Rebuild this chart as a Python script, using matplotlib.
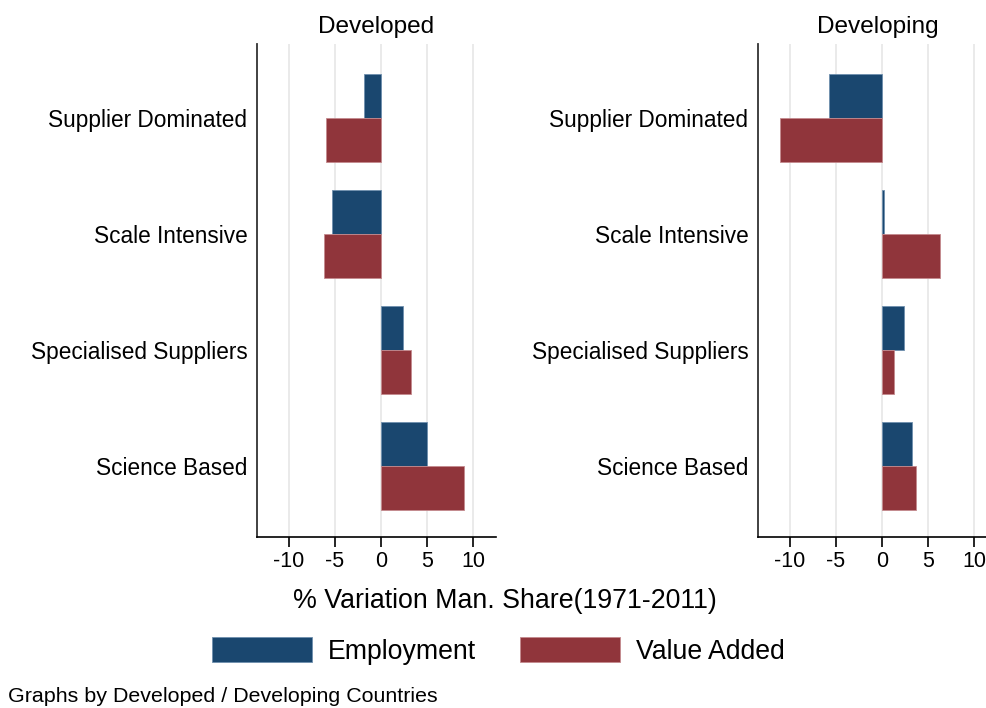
import matplotlib
matplotlib.use("Agg")
import matplotlib.pyplot as plt
from matplotlib.patches import Patch
import numpy as np

plt.rcParams['font.family'] = ['Liberation Sans', 'DejaVu Sans']

categories = ["Supplier Dominated", "Scale Intensive", "Specialised Suppliers", "Science Based"]
groups = ["Developed", "Developing"]

# % variation in manufacturing share, 1971-2011
developed_emp = [-1.85, -5.3, 2.4, 5.0]
developed_va = [-5.95, -6.2, 3.3, 9.05]
developing_emp = [-5.75, 0.2, 2.45, 3.25]
developing_va = [-11.0, 6.35, 1.3, 3.7]

xticks = [-10, -5, 0, 5, 10]

navy = '#1a476f'
maroon = '#90353b'

fig = plt.figure(figsize=(9.87, 7.08), dpi=100)

ax_w = 238.7 / 987
ax_h = 493 / 708
ax_b = 1 - 537 / 708
lefts = [257 / 987, 758 / 987]

data = [(developed_emp, developed_va), (developing_emp, developing_va)]
y = np.arange(len(categories))
h = 0.38

for k in range(2):
    ax = fig.add_axes([lefts[k], ax_b, ax_w, ax_h])
    emp, va = data[k]
    ax.barh(y - h / 2, emp, height=h, color=navy, edgecolor='#6f8fae', linewidth=0.6, zorder=3)
    ax.barh(y + h / 2, va, height=h, color=maroon, edgecolor='#c48a8e', linewidth=0.6, zorder=3)
    ax.set_xlim(-13.43, 12.45)
    ax.set_ylim(3.612, -0.638)
    ax.set_xticks(xticks)
    ax.set_xticklabels([str(t) for t in xticks], fontsize=15.5)
    ax.set_yticks(y)
    ax.set_yticklabels(categories, fontsize=16.25)
    ax.tick_params(axis='y', length=0, pad=7)
    ax.tick_params(axis='x', length=7, width=1.2, pad=3, direction='out')
    ax.grid(axis='x', color='#e6e6e6', linewidth=1.2, zorder=0)
    ax.set_axisbelow(True)
    for s in ['top', 'right']:
        ax.spines[s].set_visible(False)
    ax.spines['left'].set_color('#333333')
    ax.spines['left'].set_linewidth(1.3)
    ax.spines['bottom'].set_color('black')
    ax.spines['bottom'].set_linewidth(1.2)
    ax.set_title(groups[k], fontsize=17.6, pad=8)

fig.text(0.512, 1 - 601 / 708, "% Variation Man. Share(1971-2011)", fontsize=19.3,
         ha='center', va='center')

handles = [Patch(facecolor=navy, edgecolor='#6f8fae', linewidth=0.6, label='Employment'),
           Patch(facecolor=maroon, edgecolor='#c48a8e', linewidth=0.6, label='Value Added')]
fig.legend(handles=handles, ncol=2, loc='center', bbox_to_anchor=(0.505, 1 - 651 / 708),
           frameon=False, fontsize=19.2, handlelength=3.75, handleheight=1.06,
           handletextpad=0.6, columnspacing=1.64)

fig.text(8 / 987, 1 - 697 / 708, "Graphs by Developed / Developing Countries", fontsize=15.4,
         ha='left', va='center')

fig.savefig('out.png', dpi=100)
